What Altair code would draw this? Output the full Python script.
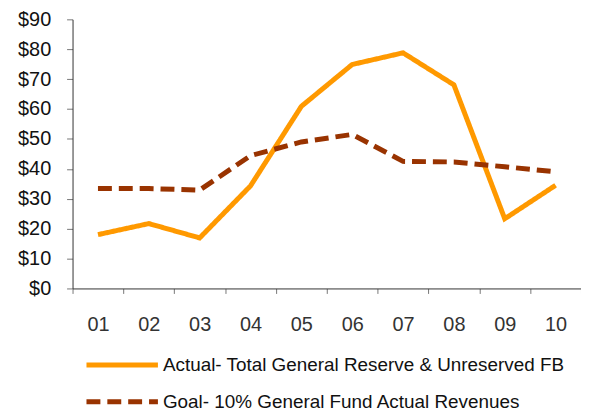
import altair as alt
import pandas as pd

years = ["01", "02", "03", "04", "05", "06", "07", "08", "09", "10"]
actual = [18.0, 21.7, 16.9, 34.3, 60.9, 74.9, 78.8, 68.1, 23.3, 34.5]
goal = [33.4, 33.4, 32.9, 44.4, 49.0, 51.5, 42.5, 42.3, 40.7, 39.0]
series = ["Actual- Total General Reserve & Unreserved FB",
          "Goal- 10% General Fund Actual Revenues"]
colors = ["#FF9900", "#993300"]
y_ticks = [0, 10, 20, 30, 40, 50, 60, 70, 80, 90]

rows = []
for name, vals in zip(series, [actual, goal]):
    for yr, v in zip(years, vals):
        rows.append({"year": yr, "value": v, "series": name})
df = pd.DataFrame(rows)

legend = alt.Legend(
    title=None, orient="none", legendX=40, legendY=338, direction="vertical",
    symbolType="M-5,0H5", symbolSize=207, symbolStrokeWidth=5,
    labelFontSize=19, labelFont="Liberation Sans", labelColor="#111111",
    labelLimit=520, rowPadding=17, labelOffset=31, padding=0,
)

chart = alt.Chart(df).mark_line(strokeWidth=5).encode(
    x=alt.X("year:N", sort=years,
            scale=alt.Scale(type="band", paddingInner=0, paddingOuter=0),
            axis=alt.Axis(title=None, labelAngle=0, tickBand="extent",
                          tickSize=5, labelPadding=21, labelFontSize=20,
                          labelFont="Liberation Sans", labelColor="#333333",
                          domainColor="#333333", tickColor="#777777",
                          grid=False)),
    y=alt.Y("value:Q", scale=alt.Scale(domain=[0, 90], nice=False),
            axis=alt.Axis(title=None, values=y_ticks, format="$,.0f",
                          tickSize=6, labelPadding=16, labelFontSize=20,
                          labelFont="Liberation Sans", labelColor="#111111",
                          domainColor="#333333", tickColor="#777777",
                          grid=False)),
    color=alt.Color("series:N", scale=alt.Scale(domain=series, range=colors),
                    legend=legend),
    strokeDash=alt.StrokeDash("series:N",
                              scale=alt.Scale(domain=series, range=[[1, 0], [14, 7]]),
                              legend=legend),
).properties(
    width=512, height=271,
    autosize=alt.AutoSizeParams(type="none"),
    padding={"left": 65, "top": 10, "right": 0, "bottom": 124},
).configure_view(stroke=None)

chart.save("out.html", embed_options={"renderer": "svg", "actions": False})
